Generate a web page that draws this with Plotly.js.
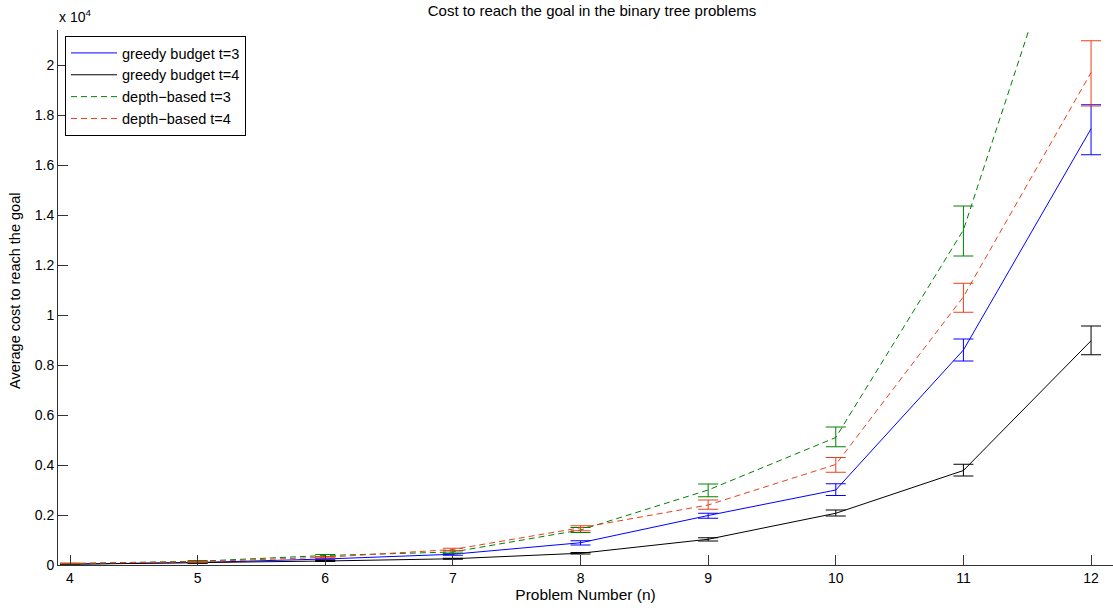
<!DOCTYPE html>
<html>
<head>
<meta charset="utf-8">
<script src="https://cdn.plot.ly/plotly-3.0.1.min.js"></script>
<style>html,body{margin:0;padding:0;background:#fff;}#chart{width:1113px;height:611px;}</style>
</head>
<body>
<div id="chart"></div>
<script>
// Data (cost values, raw units)
const problemNumbers = [4, 5, 6, 7, 8, 9, 10, 11, 12];

const greedyT3      = [40, 100, 240, 430, 890, 1980, 3000, 8600, 17450];
const greedyT3Plus  = [10, 20, 30, 40, 80, 90, 250, 440, 960];
const greedyT3Minus = [10, 20, 30, 40, 90, 110, 220, 440, 1040];

const greedyT4      = [30, 80, 160, 250, 470, 1030, 2070, 3780, 8970];
const greedyT4Plus  = [10, 10, 20, 20, 30, 60, 130, 250, 590];
const greedyT4Minus = [10, 10, 20, 20, 30, 70, 110, 220, 560];

const depthT3      = [60, 150, 380, 520, 1400, 3000, 5100, 13400, 29000];
const depthT3Plus  = [10, 30, 40, 50, 100, 240, 420, 960, 1500];
const depthT3Minus = [10, 30, 40, 50, 100, 270, 370, 1040, 1500];

const depthT4      = [60, 130, 310, 620, 1490, 2400, 4020, 10730, 19700];
const depthT4Plus  = [10, 20, 30, 50, 80, 200, 280, 540, 1270];
const depthT4Minus = [10, 20, 30, 50, 120, 170, 310, 620, 1340];

const yTickVals  = [0, 2000, 4000, 6000, 8000, 10000, 12000, 14000, 16000, 18000, 20000];
const yTickText  = ['0', '0.2', '0.4', '0.6', '0.8', '1', '1.2', '1.4', '1.6', '1.8', '2'];
const xTickVals  = [4, 5, 6, 7, 8, 9, 10, 11, 12];

const seriesNames = ['greedy budget t=3', 'greedy budget t=4', 'depth\u2212based t=3', 'depth\u2212based t=4'];

const BLUE = '#0000ff', BLACK = '#000000', GREEN = '#008000', RED = '#e8401c';

function trace(name, y, plus, minus, color, dash) {
  return {
    type: 'scatter', mode: 'lines', name: name,
    x: problemNumbers, y: y,
    line: {color: color, width: 1, dash: dash},
    error_y: {type: 'data', symmetric: false, array: plus, arrayminus: minus,
              color: color, thickness: 1, width: 10},
    cliponaxis: true
  };
}

const data = [
  trace(seriesNames[0], greedyT3, greedyT3Plus, greedyT3Minus, BLUE, 'solid'),
  trace(seriesNames[1], greedyT4, greedyT4Plus, greedyT4Minus, BLACK, 'solid'),
  trace(seriesNames[2], depthT3, depthT3Plus, depthT3Minus, GREEN, '6px,4px'),
  trace(seriesNames[3], depthT4, depthT4Plus, depthT4Minus, RED, '6px,4px')
];

const FONT = 'Liberation Sans, Arial, Helvetica, sans-serif';

const layout = {
  width: 1113, height: 611,
  margin: {l: 58, r: 0, t: 30, b: 46, pad: 0},
  paper_bgcolor: '#fff', plot_bgcolor: '#fff',
  font: {family: FONT, size: 14, color: '#000'},
  title: {text: 'Cost to reach the goal in the binary tree problems',
          font: {family: FONT, size: 15, color: '#000'},
          x: 592 / 1113, xref: 'container', xanchor: 'center',
          y: 1 - 11 / 611, yref: 'container', yanchor: 'middle'},
  xaxis: {
    range: [3.906, 12.172], tickvals: xTickVals,
    ticks: 'inside', ticklen: 10, tickcolor: '#333', tickwidth: 1,
    showline: true, linecolor: '#333', linewidth: 1, showgrid: false, zeroline: false,
    tickfont: {family: FONT, size: 14, color: '#000'},
    title: {text: 'Problem Number (n)', font: {family: FONT, size: 15.5, color: '#000'}, standoff: 4}
  },
  yaxis: {
    range: [0, 21400], tickvals: yTickVals, ticktext: yTickText,
    ticks: 'inside', ticklen: 10, tickcolor: '#333', tickwidth: 1,
    showline: true, linecolor: '#333', linewidth: 1, showgrid: false, zeroline: false,
    tickfont: {family: FONT, size: 14, color: '#000'}
  },
  legend: {
    x: 7 / 1055, y: (565 - 36) / 535, xanchor: 'left', yanchor: 'top',
    bgcolor: '#fff', bordercolor: '#000', borderwidth: 1,
    font: {family: FONT, size: 14.5, color: '#000'}, itemwidth: 46, tracegroupgap: 0
  },
  annotations: [
    {text: 'Average cost to reach the goal', textangle: -90, showarrow: false,
     xref: 'paper', yref: 'paper', x: (15 - 58) / 1055, y: (565 - 291) / 535,
     xanchor: 'center', yanchor: 'middle', font: {family: FONT, size: 14.5, color: '#000'}},
    {text: 'x 10<sup>4</sup>', showarrow: false,
     xref: 'paper', yref: 'paper', x: (57 - 58) / 1055, y: (565 - 16) / 535,
     xanchor: 'left', yanchor: 'middle', font: {family: FONT, size: 14, color: '#000'}}
  ],
  showlegend: true
};

Plotly.newPlot('chart', data, layout, {displayModeBar: false, staticPlot: true});
</script>
</body>
</html>
